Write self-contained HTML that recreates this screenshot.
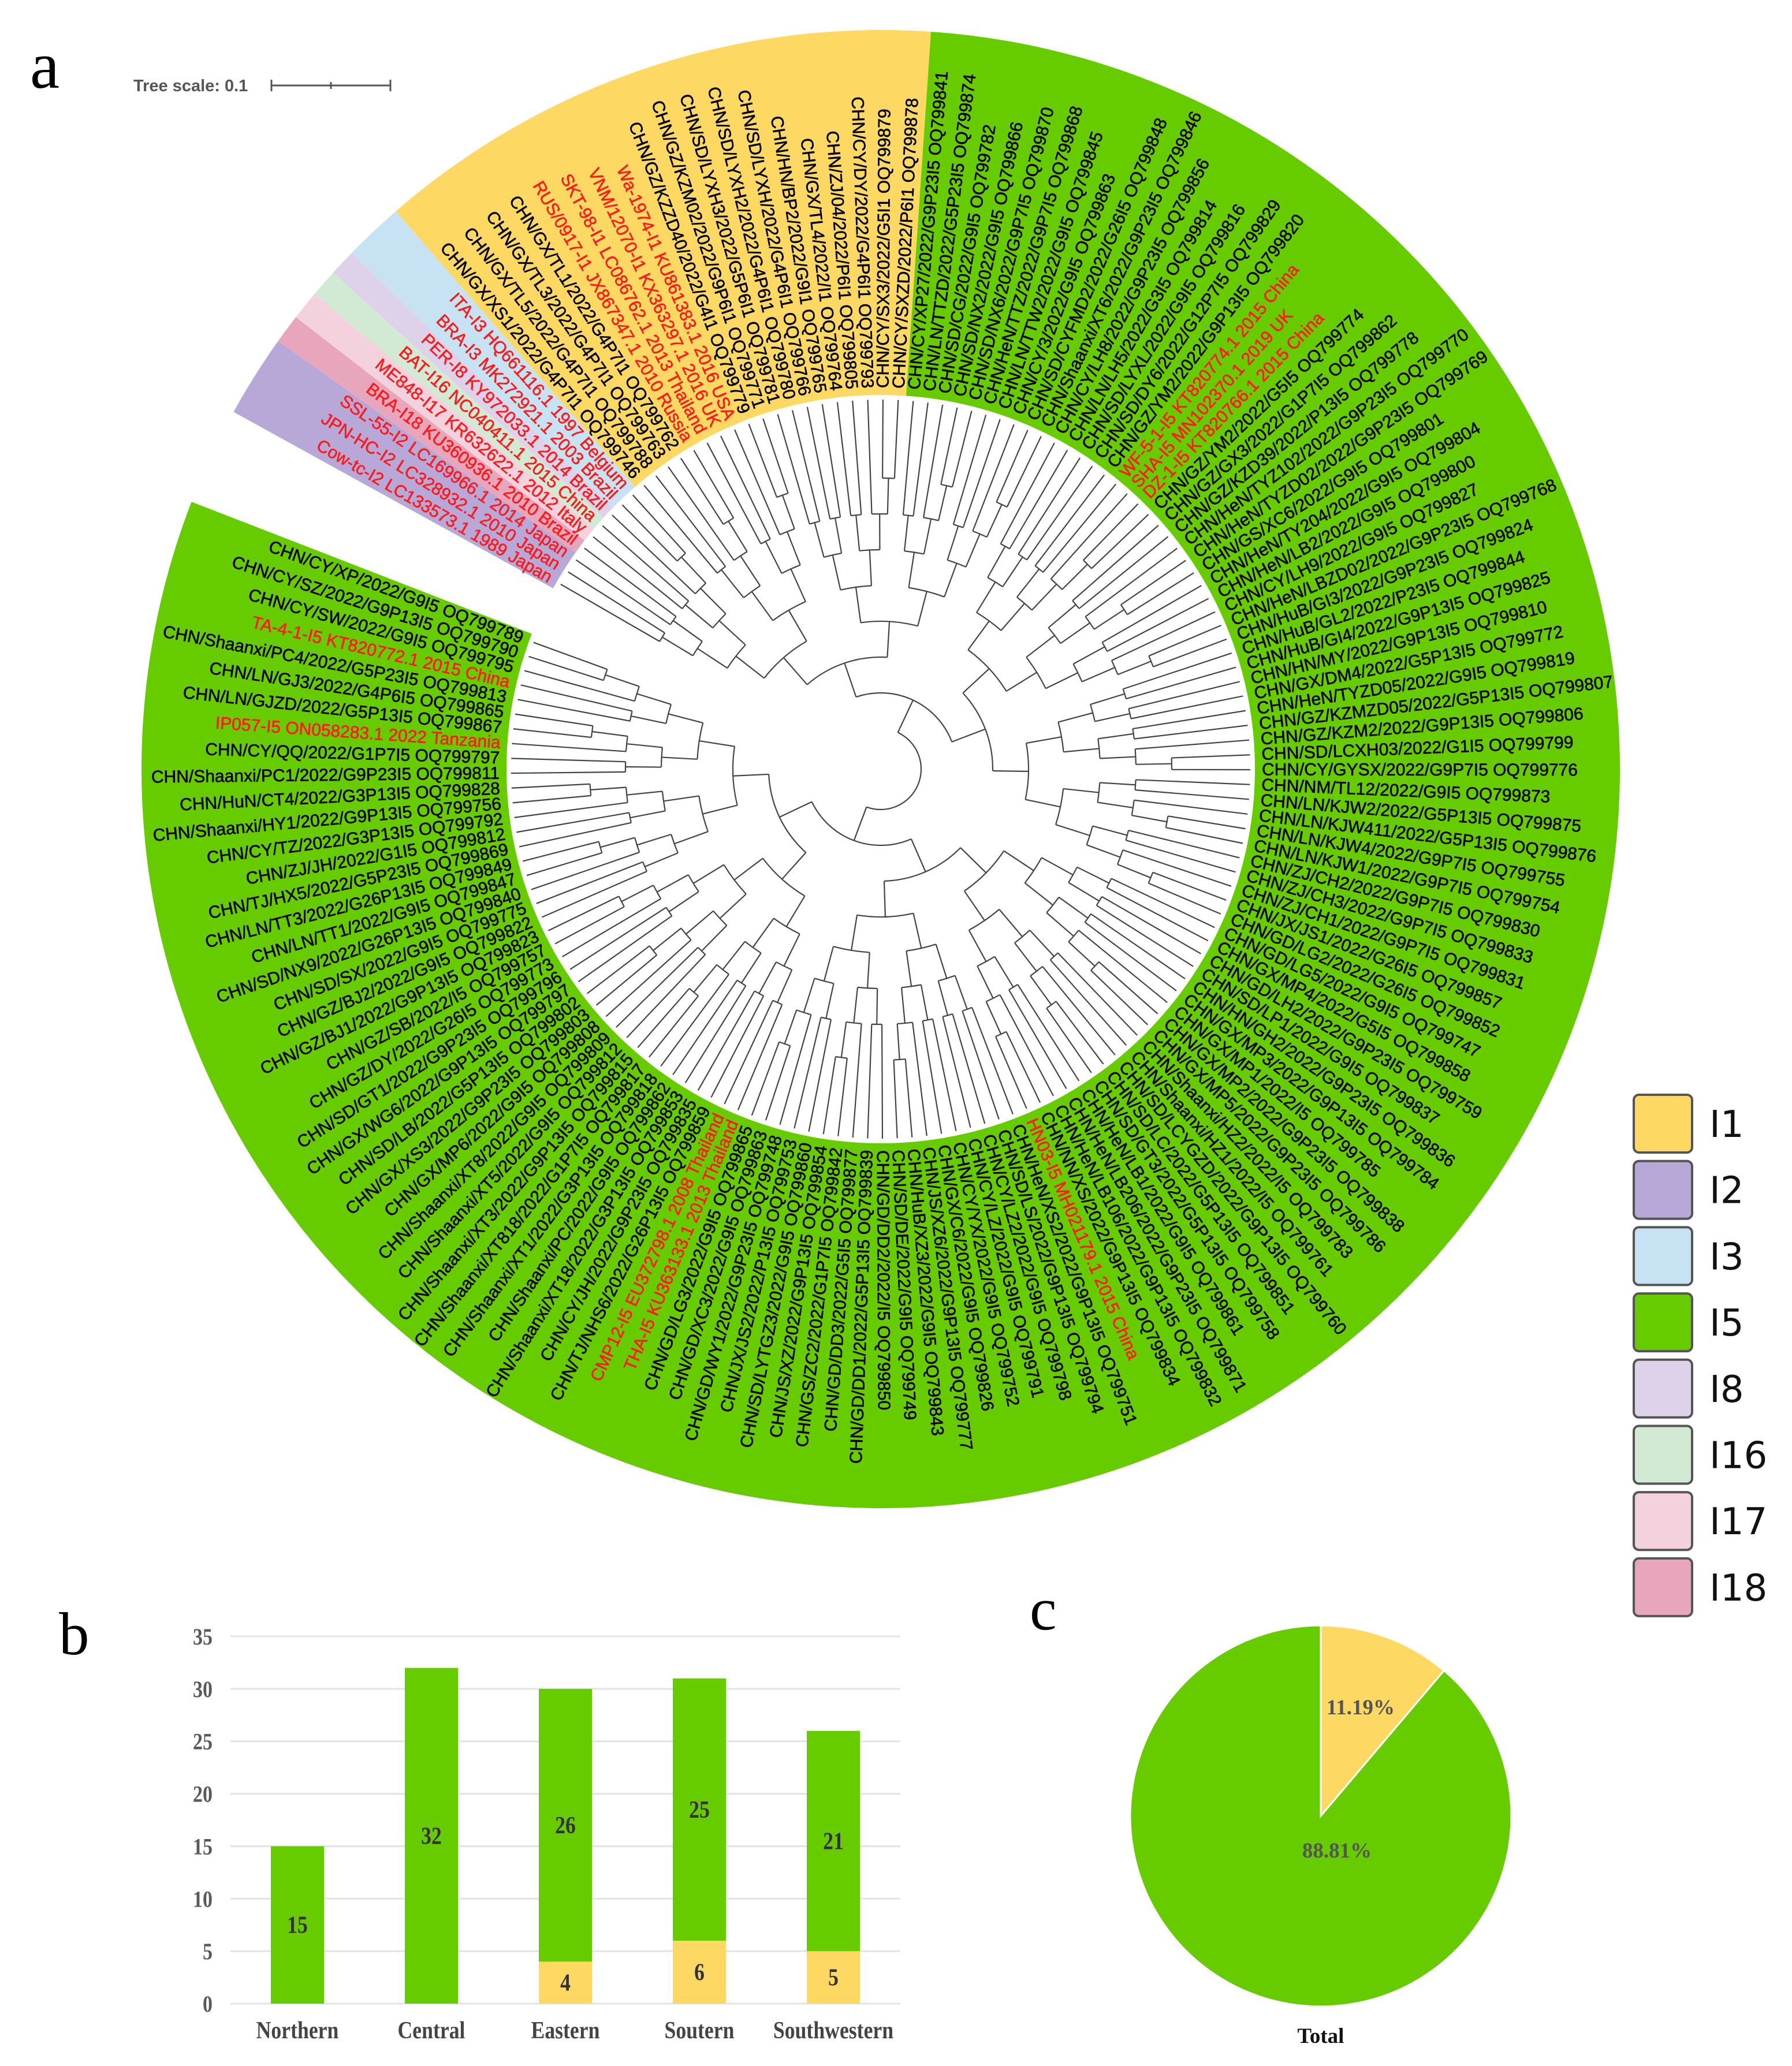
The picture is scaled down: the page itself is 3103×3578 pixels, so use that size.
<!DOCTYPE html>
<html><head><meta charset="utf-8"><title>Rotavirus I genotype figure</title>
<style>
html,body{margin:0;padding:0;background:#fff;}
svg{display:block;}
</style></head>
<body>
<svg id="fig" width="3103" height="3578" viewBox="0 0 3103 3578" xmlns="http://www.w3.org/2000/svg">
  <rect x="0" y="0" width="3103" height="3578" fill="#fff"/>
  <g id="wedges"></g>
  <g id="tree"></g>
  <g id="labels"></g>
  <text x="52" y="152" font-family="Liberation Serif, serif" font-size="115" fill="#000">a</text>
  <g>
    <text x="231" y="158" font-family="Liberation Sans, sans-serif" font-weight="bold" font-size="29" fill="#555">Tree scale: 0.1</text>
    <line x1="470" y1="148" x2="676" y2="148" stroke="#555" stroke-width="3"/>
    <line x1="470" y1="138" x2="470" y2="158" stroke="#555" stroke-width="3"/>
    <line x1="573" y1="142" x2="573" y2="154" stroke="#555" stroke-width="3"/>
    <line x1="676" y1="138" x2="676" y2="158" stroke="#555" stroke-width="3"/>
  </g>
  <g id="legend"></g>
  <text x="102" y="2865" font-family="Liberation Serif, serif" font-size="105" fill="#000">b</text>
  <g id="bars"></g>
  <text x="1783" y="2822" font-family="Liberation Serif, serif" font-size="105" fill="#000">c</text>
  <g id="pie"></g>
</svg>
<script>
// ---------- data ----------
const legendNames = ["I1","I2","I3","I5","I8","I16","I17","I18"];
const legendColors = ["#fdd862","#b8a8d8","#c6e2f3","#66cc00","#ded1ea","#d2ead3","#f4d2dd","#e8a6bd"];

const barCategories = ["Northern","Central","Eastern","Soutern","Southwestern"];
const barI5 = [15,32,26,25,21];
const barI1 = [0,0,4,6,5];
const barTicks = [0,5,10,15,20,25,30,35];

const pieLabels = ["I1","I5"];
const pieValues = [11.19,88.81];
const pieText = ["11.19%","88.81%"];

const refLabels = ["Cow-tc-I2 LC133573.1 1989 Japan","JPN-HC-I2 LC328932.1 2010 Japan","SSL-55-I2 LC169966.1 2014 Japan","BRA-I18 KU360936.1 2010 Brazil","ME848-I17 KR632622.1 2012 Italy","BAT-I16 NC040411.1 2015 China","PER-I8 KY972033.1 2014 Brazil","BRA-I3 MK272921.1 2003 Brazil","ITA-I3 HQ661116.1 1997 Belgium"];
const yellowLabels = ["CHN/GX/XS1/2022/G4P7I1 OQ799746","CHN/GX/TL5/2022/G4P7I1 OQ799788","CHN/GX/TL3/2022/G4P7I1 OQ799763","CHN/GX/TL1/2022/G4P7I1 OQ799762","RUS/0917-I1 JX867347.1 2010 Russia","SKT-98-I1 LC086762.1 2013 Thailand","VNM/12070-I1 KX363297.1 2016 UK","Wa-1974-I1 KU861383.1 2016 USA","CHN/GZ/KZZD40/2022/G4I1 OQ799779","CHN/GZ/KZM02/2022/G9P6I1 OQ799771","CHN/SD/LYXH3/2022/G5P6I1 OQ799781","CHN/SD/LYXH2/2022/G4P6I1 OQ799780","CHN/SD/LYXH/2022/G4P6I1 OQ799766","CHN/HN/BP2/2022/G9I1 OQ799765","CHN/GX/TL4/2022/I1 OQ799764","CHN/ZJ/04/2022/P6I1 OQ799805","CHN/CY/DY/2022/G4P6I1 OQ799793","CHN/CY/SX3/2022/G5I1 OQ799879","CHN/CY/SXZD/2022/P6I1 OQ799878"];
const greenLabels = ["CHN/CY/XP27/2022/G9P23I5 OQ799841","CHN/LN/TTZD/2022/G5P23I5 OQ799874","CHN/SD/CG/2022/G9I5 OQ799782","CHN/SD/NX2/2022/G9I5 OQ799866","CHN/SD/NX6/2022/G9P7I5 OQ799870","CHN/HeN/TTZ/2022/G9P7I5 OQ799868","CHN/LN/TTW2/2022/G9I5 OQ799845","CHN/CY/3/2022/G9I5 OQ799863","CHN/SD/CYFMD2/2022/G26I5 OQ799848","CHN/Shaanxi/XT6/2022/G9P23I5 OQ799846","CHN/CY/LH8/2022/G9P23I5 OQ799856","CHN/LN/LH5/2022/G3I5 OQ799814","CHN/SD/LYXL/2022/G9I5 OQ799816","CHN/SD/DY6/2022/G12P7I5 OQ799829","CHN/GZ/YM2/2022/G9P13I5 OQ799820","WF-5-1-I5 KT820774.1 2015 China","SHA-I5 MN102370.1 2019 UK","DZ-1-I5 KT820766.1 2015 China","CHN/GZ/YM2/2022/G5I5 OQ799774","CHN/GZ/GX3/2022/G1P7I5 OQ799862","CHN/GZ/KZD39/2022/P13I5 OQ799778","CHN/HeN/TYZ102/2022/G9P23I5 OQ799770","CHN/HeN/TYZD02/2022/G9P23I5 OQ799769","CHN/GS/XC6/2022/G9I5 OQ799801","CHN/HeN/TY204/2022/G9I5 OQ799804","CHN/HeN/LB2/2022/G9I5 OQ799800","CHN/CY/LH9/2022/G9I5 OQ799827","CHN/HeN/LBZD02/2022/G9P23I5 OQ799768","CHN/HuB/GI3/2022/G9P23I5 OQ799824","CHN/HuB/GL2/2022/P23I5 OQ799844","CHN/HuB/GI4/2022/G9P13I5 OQ799825","CHN/HN/MY/2022/G9P13I5 OQ799810","CHN/GX/DM4/2022/G5P13I5 OQ799772","CHN/HeN/TYZD05/2022/G9I5 OQ799819","CHN/GZ/KZMZD05/2022/G5P13I5 OQ799807","CHN/GZ/KZM2/2022/G9P13I5 OQ799806","CHN/SD/LCXH03/2022/G1I5 OQ799799","CHN/CY/GYSX/2022/G9P7I5 OQ799776","CHN/NM/TL12/2022/G9I5 OQ799873","CHN/LN/KJW2/2022/G5P13I5 OQ799875","CHN/LN/KJW411/2022/G5P13I5 OQ799876","CHN/LN/KJW4/2022/G9P7I5 OQ799755","CHN/LN/KJW1/2022/G9P7I5 OQ799754","CHN/ZJ/CH2/2022/G9P7I5 OQ799830","CHN/ZJ/CH3/2022/G9P7I5 OQ799833","CHN/ZJ/CH1/2022/G9P7I5 OQ799831","CHN/JX/JS1/2022/G26I5 OQ799857","CHN/GD/LG2/2022/G26I5 OQ799852","CHN/GD/LG5/2022/G9I5 OQ799747","CHN/GX/MP4/2022/G5I5 OQ799858","CHN/GD/LH2/2022/G9P23I5 OQ799759","CHN/SD/LP1/2022/G9I5 OQ799837","CHN/HN/GH2/2022/G9P23I5 OQ799836","CHN/GX/MP3/2022/G9P13I5 OQ799784","CHN/GX/MP1/2022/I5 OQ799785","CHN/GX/MP2/2022/G9P23I5 OQ799838","CHN/GX/MP5/2022/G9P23I5 OQ799786","CHN/Shaanxi/HZ2/2022/I5 OQ799783","CHN/Shaanxi/HZ1/2022/I5 OQ799761","CHN/SD/LCYGZD/2022/G9P13I5 OQ799760","CHN/SD/LC/2022/G5P13I5 OQ799851","CHN/SD/GT3/2022/G5P13I5 OQ799758","CHN/HeN/LB1/2022/G9I5 OQ799861","CHN/HeN/LB206/2022/G9P23I5 OQ799871","CHN/HeN/LB106/2022/G9P13I5 OQ799832","CHN/NN/XS/2022/G9P13I5 OQ799834","HN03-I5 MH021179.1 2015 China","CHN/HeN/XS2/2022/G9P13I5 OQ799751","CHN/SD/LS/2022/G9P13I5 OQ799794","CHN/CY/LZ2/2022/G9I5 OQ799798","CHN/CY/LZ/2022/G9I5 OQ799791","CHN/CY/YX/2022/G9I5 OQ799752","CHN/GX/C6/2022/G9I5 OQ799826","CHN/JS/XZ6/2022/G9P13I5 OQ799777","CHN/HuB/XZ3/2022/G9I5 OQ799843","CHN/SD/DE/2022/G9I5 OQ799749","CHN/GD/DD2/2022/I5 OQ799850","CHN/GD/DD1/2022/G5P13I5 OQ799839","CHN/GD/DD3/2022/G5I5 OQ799877","CHN/GS/ZC2/2022/G1P7I5 OQ799842","CHN/JS/XZ/2022/G9P13I5 OQ799854","CHN/SD/LYTGZ3/2022/G9I5 OQ799860","CHN/JX/JS2/2022/P13I5 OQ799753","CHN/GD/WY1/2022/G9P23I5 OQ799748","CHN/GD/XC3/2022/G9I5 OQ799863","CHN/GD/LG3/2022/G9I5 OQ799865","THA-I5 KU363133.1 2013 Thailand","CMP12-I5 EU372798.1 2008 Thailand","CHN/TJ/NHS6/2022/G26P13I5 OQ799859","CHN/CY/JH/2022/G9P23I5 OQ799835","CHN/Shaanxi/XT18/2022/G3P13I5 OQ799853","CHN/Shaanxi/PC/2022/G9I5 OQ799862","CHN/Shaanxi/XT1/2022/G3P13I5 OQ799818","CHN/Shaanxi/XT818/2022/G1P7I5 OQ799817","CHN/Shaanxi/XT3/2022/G9P13I5 OQ799815","CHN/Shaanxi/XT5/2022/G9I5 OQ799812","CHN/Shaanxi/XT8/2022/G9I5 OQ799809","CHN/GX/MP6/2022/G9I5 OQ799808","CHN/GX/XS3/2022/G9P23I5 OQ799803","CHN/SD/LB/2022/G5P13I5 OQ799802","CHN/GX/WG6/2022/G9P13I5 OQ799797","CHN/SD/GT1/2022/G9P23I5 OQ799796","CHN/GZ/DY/2022/G26I5 OQ799773","CHN/GZ/SB/2022/I5 OQ799757","CHN/GZ/BJ1/2022/G9P13I5 OQ799823","CHN/GZ/BJ2/2022/G9I5 OQ799822","CHN/SD/SX/2022/G9I5 OQ799775","CHN/SD/NX9/2022/G26P13I5 OQ799840","CHN/LN/TT1/2022/G9I5 OQ799847","CHN/LN/TT3/2022/G26P13I5 OQ799849","CHN/TJ/HX5/2022/G5P23I5 OQ799869","CHN/ZJ/JH/2022/G1I5 OQ799812","CHN/CY/TZ/2022/G3P13I5 OQ799792","CHN/Shaanxi/HY1/2022/G9P13I5 OQ799756","CHN/HuN/CT4/2022/G3P13I5 OQ799828","CHN/Shaanxi/PC1/2022/G9P23I5 OQ799811","CHN/CY/QQ/2022/G1P7I5 OQ799797","IP057-I5 ON058283.1 2022 Tanzania","CHN/LN/GJZD/2022/G5P13I5 OQ799867","CHN/LN/GJ3/2022/G4P6I5 OQ799865","CHN/Shaanxi/PC4/2022/G5P23I5 OQ799813","TA-4-1-I5 KT820772.1 2015 China","CHN/CY/SW/2022/G9I5 OQ799795","CHN/CY/SZ/2022/G9P13I5 OQ799790","CHN/CY/XP/2022/G9I5 OQ799789"];

// ---------- geometry ----------
const NS = "http://www.w3.org/2000/svg";
const CX = 1525, CY = 1332, R_OUT = 1280, R_IN = 648, R_TIP = 640, R_LABEL = 660;
function pt(r, a){ const t = a*Math.PI/180; return [CX + r*Math.sin(t), CY - r*Math.cos(t)]; }
function mk(tag, attrs, parent){ const e = document.createElementNS(NS, tag); for (const k in attrs) e.setAttribute(k, attrs[k]); parent.appendChild(e); return e; }
function colorOf(g){ return legendColors[legendNames.indexOf(g)]; }
function sector(a0, a1, r0, r1){
  const p0 = pt(r1,a0), p1 = pt(r1,a1), p2 = pt(r0,a1), p3 = pt(r0,a0);
  const large = (a1-a0) > 180 ? 1 : 0;
  return `M${p0[0]},${p0[1]} A${r1},${r1} 0 ${large} 1 ${p1[0]},${p1[1]} L${p2[0]},${p2[1]} A${r0},${r0} 0 ${large} 0 ${p3[0]},${p3[1]} Z`;
}

const wedgeGroups = ["I2","I18","I17","I16","I8","I3","I1","I5"];
const wedgeStart = [-61.1,-54.6,-52.3,-50.0,-47.8,-45.7,-41.0,3.9];
const wedgeEnd   = [-54.6,-52.3,-50.0,-47.8,-45.7,-41.0,3.9,291.2];

const wg = document.getElementById('wedges');
for (let i = 0; i < wedgeGroups.length; i++){
  const p = mk('path', {d: sector(wedgeStart[i], wedgeEnd[i], R_IN, R_OUT), fill: colorOf(wedgeGroups[i])}, wg);
  
  
}

// ---------- leaves ----------
const leaves = [];
function spread(list, a0, a1){ const step = (a1-a0)/list.length; list.forEach((n,i)=>leaves.push({name:n, angle:a0 + step*(i+0.5)})); }
spread(refLabels, -61.1, -41.0);
spread(yellowLabels, -41.0, 3.9);
spread(greenLabels, 3.9, 291.2);

const lg = document.getElementById('labels');
leaves.forEach(l => {
  const a = ((l.angle % 360) + 360) % 360;
  const [x,y] = pt(R_LABEL, l.angle);
  const left = a > 180;
  const rot = left ? l.angle + 90 : l.angle - 90;
  const col = l.name.startsWith('CHN') ? '#000' : '#ff1a1a';
  const t = mk('text', {x:x, y:y, transform:`rotate(${rot} ${x} ${y})`, 'text-anchor': left ? 'end':'start', 'dominant-baseline':'central', 'font-family':'Liberation Sans, sans-serif', 'font-size':'30', fill: col, stroke: col, 'stroke-width':'0.6'}, lg);
  t.textContent = l.name;
  
  
});

// ---------- tree (structural dendrogram) ----------
const tg = document.getElementById('tree');
const tstyle = {stroke:'#444', 'stroke-width':'2.2', fill:'none'};
function build(lo, hi, depth){
  if (hi - lo === 1) return {angle: leaves[lo].angle, r: R_TIP};
  const mid = Math.floor((lo+hi)/2);
  const a = build(lo, mid, depth+1), b = build(mid, hi, depth+1);
  const r = 70 + depth*62;
  [a,b].forEach(c => {
    const p0 = pt(r, c.angle), p1 = pt(c.r, c.angle);
    const ln = mk('line', Object.assign({x1:p0[0], y1:p0[1], x2:p1[0], y2:p1[1]}, tstyle), tg);
    
    
  });
  const q0 = pt(r, a.angle), q1 = pt(r, b.angle);
  const large = (b.angle - a.angle) > 180 ? 1 : 0;
  const arc = mk('path', Object.assign({d:`M${q0[0]},${q0[1]} A${r},${r} 0 ${large} 1 ${q1[0]},${q1[1]}`}, tstyle), tg);
  
  
  return {angle: (a.angle + b.angle)/2, r: r};
}
build(0, leaves.length, 0);

// ---------- legend ----------
const lgd = document.getElementById('legend');
legendNames.forEach((n, i) => {
  const y = 1896 + i*114.7;
  const box = mk('rect', {x:2829, y:y, width:101, height:100, rx:9, fill:legendColors[i], stroke:'#555', 'stroke-width':'4'}, lgd);
  
  
  const t = mk('text', {x:2960, y:y+73, 'font-family':'DejaVu Sans, Liberation Sans, sans-serif', 'font-size':'64', fill:'#111'}, lgd);
  t.textContent = n;
  
  
});

// ---------- bar chart ----------
const bg = document.getElementById('bars');
const X0 = 399, X1 = 1559, Y0 = 3470, UNIT = 18.17, BW = 92, STEP = 232, FIRST = 515;
function yv(v){ return Y0 - v*UNIT; }
function xc(i){ return FIRST + i*STEP; }
function condensed(x, y){ return `translate(${x} ${y}) scale(0.85 1) translate(${-x} ${-y})`; }
barTicks.forEach(v => {
  const gl = mk('line', {x1:X0, x2:X1, y1:yv(v), y2:yv(v), stroke:'#e3e3e3', 'stroke-width':'3'}, bg);
  
  
  const t = mk('text', {x:368, y:yv(v)+14, transform:condensed(368, yv(v)), 'text-anchor':'end', 'font-family':'Liberation Serif, serif', 'font-weight':'bold', 'font-size':'40', fill:'#595959'}, bg);
  t.textContent = v;
  
  
});
barCategories.forEach((c, i) => {
  const x = xc(i) - BW/2;
  if (barI1[i] > 0){
    const r1 = mk('rect', {x:x, y:yv(barI1[i]), width:BW, height:barI1[i]*UNIT, fill:'#fdd862'}, bg);
    
    
    const t1 = mk('text', {x:xc(i), y:yv(barI1[i]/2)+14, transform:condensed(xc(i), 0), 'text-anchor':'middle', 'font-family':'Liberation Serif, serif', 'font-weight':'bold', 'font-size':'42', fill:'#333'}, bg);
    t1.textContent = barI1[i];
    
    
  }
  const top = barI1[i] + barI5[i];
  const r5 = mk('rect', {x:x, y:yv(top), width:BW, height:barI5[i]*UNIT, fill:'#66cc00'}, bg);
  
  
  const t5 = mk('text', {x:xc(i), y:yv(barI1[i] + barI5[i]/2)+14, transform:condensed(xc(i), 0), 'text-anchor':'middle', 'font-family':'Liberation Serif, serif', 'font-weight':'bold', 'font-size':'42', fill:'#333'}, bg);
  t5.textContent = barI5[i];
  
  
  const tc = mk('text', {x:xc(i), y:3530, transform:condensed(xc(i), 0), 'text-anchor':'middle', 'font-family':'Liberation Serif, serif', 'font-weight':'bold', 'font-size':'42', fill:'#444'}, bg);
  tc.textContent = c;
  
  
});

// ---------- pie ----------
const pg = document.getElementById('pie');
const PX = 2287, PY = 3145, PR = 330;
const pieColors = ["#fdd862","#66cc00"];
const pieLabelR = [200, 60];
const total = pieValues.reduce((s,v)=>s+v,0);
let acc = 0;
pieValues.forEach((v, i) => {
  const a0 = acc/total*360, a1 = (acc+v)/total*360; acc += v;
  const t0 = a0*Math.PI/180, t1 = a1*Math.PI/180;
  const p0 = [PX + PR*Math.sin(t0), PY - PR*Math.cos(t0)], p1 = [PX + PR*Math.sin(t1), PY - PR*Math.cos(t1)];
  const large = (a1-a0) > 180 ? 1 : 0;
  const s = mk('path', {d:`M${PX},${PY} L${p0[0]},${p0[1]} A${PR},${PR} 0 ${large} 1 ${p1[0]},${p1[1]} Z`, fill:pieColors[i], stroke:'#fff', 'stroke-width':'3'}, pg);
  
  
  const am = (a0+a1)/2*Math.PI/180;
  const lx = PX + pieLabelR[i]*Math.sin(am) + (i===1 ? 28 - 60*Math.sin(am) : 0);
  const ly = PY - pieLabelR[i]*Math.cos(am) + (i===1 ? 60 + 60*Math.cos(am) : 0);
  const t = mk('text', {x:lx, y:ly+12, 'text-anchor':'middle', 'font-family':'Liberation Serif, serif', 'font-weight':'bold', 'font-size':'37', fill:'#555'}, pg);
  t.textContent = pieText[i];
  
  
});
const tt = mk('text', {x:PX, y:3538, 'text-anchor':'middle', 'font-family':'Liberation Serif, serif', 'font-weight':'bold', 'font-size':'37', fill:'#111'}, pg);
tt.textContent = 'Total';


</script>
</body></html>
